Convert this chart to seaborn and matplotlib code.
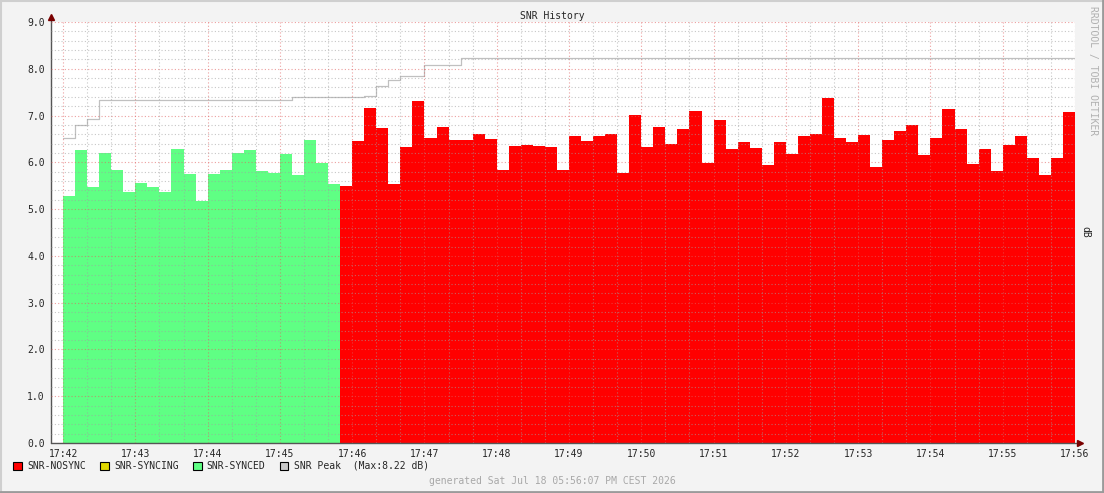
import numpy as np
import pandas as pd
import matplotlib
matplotlib.use('Agg')
import matplotlib.pyplot as plt
import matplotlib.ticker as mticker
from matplotlib.patches import Patch
from matplotlib.lines import Line2D
import seaborn as sns

# 10 second samples starting 17:42:00
step = 10
synced = [5.28, 6.27, 5.48, 6.20, 5.84, 5.37, 5.56, 5.48, 5.37, 6.29, 5.76, 5.18,
          5.76, 5.84, 6.20, 6.27, 5.82, 5.78, 6.18, 5.73, 6.48, 5.99, 5.54]
nosync = [5.50, 6.46, 7.17, 6.74, 5.54, 6.33, 7.32, 6.53, 6.76, 6.48, 6.48, 6.61,
          6.50, 5.84, 6.35, 6.38, 6.35, 6.33, 5.84, 6.57, 6.46, 6.57, 6.61, 5.78,
          7.02, 6.33, 6.76, 6.40, 6.72, 7.10, 5.99, 6.91, 6.29, 6.44, 6.31, 5.95,
          6.44, 6.18, 6.57, 6.61, 7.38, 6.53, 6.44, 6.59, 5.91, 6.48, 6.68, 6.80,
          6.16, 6.53, 7.15, 6.72, 5.97, 6.29, 5.82, 6.38, 6.57, 6.10, 5.73, 6.10,
          7.08]
peak = [6.52, 6.80, 6.93, 7.34, 7.34, 7.34, 7.34, 7.34, 7.34, 7.34, 7.34, 7.34,
        7.34, 7.34, 7.34, 7.34, 7.34, 7.34, 7.34, 7.40, 7.40, 7.40, 7.40, 7.40,
        7.40, 7.42, 7.63, 7.76, 7.85, 7.85, 8.08, 8.08, 8.08, 8.22, 8.22, 8.22,
        8.22, 8.22, 8.22, 8.22, 8.22, 8.22, 8.22, 8.22, 8.22, 8.22, 8.22, 8.22,
        8.22, 8.22, 8.22, 8.22, 8.22, 8.22, 8.22, 8.22, 8.22, 8.22, 8.22, 8.22,
        8.22, 8.22, 8.22, 8.22, 8.22, 8.22, 8.22, 8.22, 8.22, 8.22, 8.22, 8.22,
        8.22, 8.22, 8.22, 8.22, 8.22, 8.22, 8.22, 8.22, 8.22, 8.22, 8.22, 8.22]
tick_labels = ['17:42', '17:43', '17:44', '17:45', '17:46', '17:47', '17:48', '17:49',
               '17:50', '17:51', '17:52', '17:53', '17:54', '17:55', '17:56']

colors = {'SNR-NOSYNC': '#FF0000', 'SNR-SYNCING': '#E0D800',
          'SNR-SYNCED': '#5FFF84', 'SNR Peak': '#C8C8C8'}

n = len(synced) + len(nosync)
df = pd.DataFrame({
    't': np.arange(n) * step + step / 2,
    'snr': synced + nosync,
    'state': ['SNR-SYNCED'] * len(synced) + ['SNR-NOSYNC'] * len(nosync),
})
peak_df = pd.DataFrame({'t': list(np.arange(n) * step) + [n * step], 'peak': peak + [peak[-1]]})

sns.set_style('white')
plt.rcParams['font.family'] = ['DejaVu Sans Mono']
plt.rcParams['font.size'] = 7

fig = plt.figure(figsize=(11.04, 4.93), dpi=100, facecolor='#F3F3F3')
ax = fig.add_axes([51 / 1104, 50 / 493, 1024 / 1104, 421 / 493])
ax.set_facecolor('white')

sns.histplot(data=df, x='t', weights='snr', hue='state', binwidth=step, binrange=(0, n * step),
             element='step', fill=True, palette=colors, alpha=1, linewidth=0,
             legend=False, ax=ax)
sns.lineplot(data=peak_df, x='t', y='peak', drawstyle='steps-post', color='#C0C0C0',
             linewidth=0.9, estimator=None, ax=ax)

ax.set_xlim(-10, n * step)
ax.set_ylim(0, 9)
ax.set_xlabel('')
ax.set_ylabel('')

ax.xaxis.set_major_locator(mticker.FixedLocator(np.arange(0, n * step + 1, 60)))
ax.set_xticklabels(tick_labels)
ax.xaxis.set_minor_locator(mticker.MultipleLocator(20))
ax.yaxis.set_major_locator(mticker.MultipleLocator(1))
ax.yaxis.set_major_formatter(mticker.FormatStrFormatter('%.1f'))
ax.yaxis.set_minor_locator(mticker.MultipleLocator(0.2))

ax.set_axisbelow(False)
ax.grid(which='minor', color='#A0A0A0', alpha=0.6, linestyle=(0, (1, 2)), linewidth=0.8)
ax.grid(which='major', color='#E06060', alpha=0.6, linestyle=(0, (1, 2)), linewidth=0.8)

for s in ['top', 'right', 'left', 'bottom']:
    ax.spines[s].set_visible(False)
ax.tick_params(which='major', length=2.5, width=0.8, color='#E05050', pad=2, labelsize=7)
ax.tick_params(which='minor', length=1.5, width=0.8, color='#999999')
ax.tick_params(axis='x', which='major', pad=1.5)

# axis lines with arrow heads
ax.plot([0, 0], [0, 1 + 4 / 421], transform=ax.transAxes, color='#555555', lw=1, clip_on=False)
ax.plot([0, 1 + 4 / 1024], [0, 0], transform=ax.transAxes, color='#555555', lw=1, clip_on=False)
ax.plot([0], [1 + 5 / 421], transform=ax.transAxes, marker='^', ms=4, color='#7A0000', clip_on=False)
ax.plot([1 + 5 / 1024], [0], transform=ax.transAxes, marker='>', ms=4, color='#7A0000', clip_on=False)

fig.text(552 / 1104, 1 - 16 / 493, 'SNR History', ha='center', va='center', fontsize=7)
fig.text(1093 / 1104, 1 - 71 / 493, 'RRDTOOL / TOBI OETIKER', rotation=270,
         ha='center', va='center', color='#B0B0B0', fontsize=7)
fig.text(1085 / 1104, 1 - 232 / 493, 'dB', rotation=270, ha='center', va='center', fontsize=7)
fig.text(552 / 1104, 1 - 481 / 493, 'generated Sat Jul 18 05:56:07 PM CEST 2026',
         ha='center', va='center', color='#A8A8A8', fontsize=7)

handles = [Patch(facecolor=colors[k], edgecolor='black', linewidth=0.8) for k in colors]
labels = ['SNR-NOSYNC', 'SNR-SYNCING', 'SNR-SYNCED', 'SNR Peak  (Max:8.22 dB)']
fig.legend(handles, labels, loc='center left', bbox_to_anchor=(13 / 1104, 1 - 466 / 493),
           ncol=4, frameon=False, fontsize=7, handlelength=0.9, handleheight=0.9,
           handletextpad=0.55, columnspacing=1.45, borderpad=0, borderaxespad=0)

# frame around the image
fig.add_artist(Line2D([0, 1], [1 - 0.5 / 493, 1 - 0.5 / 493], color='#CFCFCF', lw=1.5))
fig.add_artist(Line2D([0.5 / 1104, 0.5 / 1104], [0, 1], color='#CFCFCF', lw=1.5))
fig.add_artist(Line2D([1 - 1 / 1104, 1 - 1 / 1104], [0, 1], color='#9A9A9A', lw=2))
fig.add_artist(Line2D([0, 1], [1.5 / 493, 1.5 / 493], color='#9A9A9A', lw=2))

fig.savefig('out.png', dpi=100, facecolor=fig.get_facecolor())
